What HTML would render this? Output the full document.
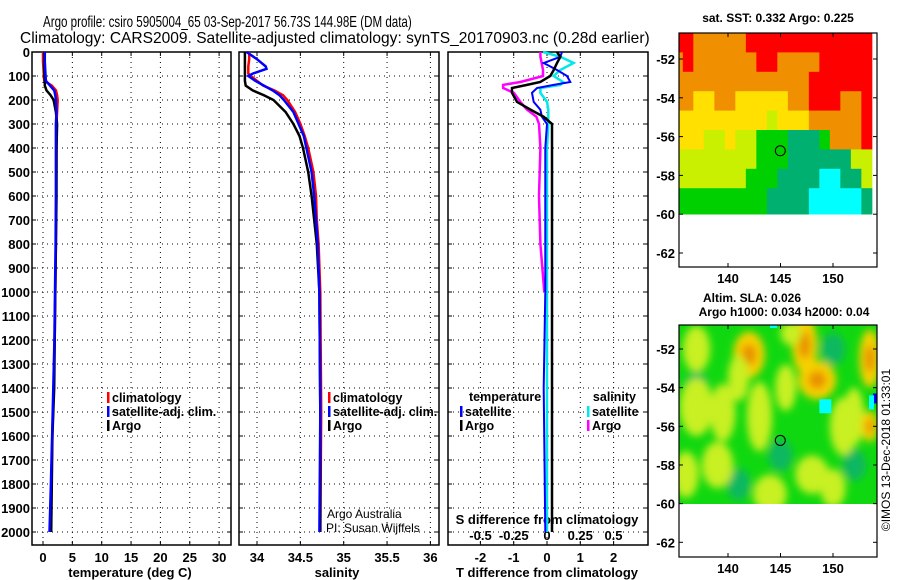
<!DOCTYPE html>
<html><head><meta charset="utf-8"><style>
body{margin:0;background:#fff}
svg{display:block;font-family:"Liberation Sans",sans-serif;font-weight:bold}
</style></head><body>
<svg id="c" width="900" height="580" viewBox="0 0 900 580">
<rect width="900" height="580" fill="#fff"/>
<text id="t1" x="0" y="0" font-size="15.5" font-weight="normal">Argo profile: csiro 5905004_65 03-Sep-2017 56.73S 144.98E (DM data)</text>
<text id="t2" x="0" y="0" font-size="15.5" font-weight="normal">Climatology: CARS2009. Satellite-adjusted climatology: synTS_20170903.nc (0.28d earlier)</text>
<g id="g"></g>
</svg>
<script>
// ---- data ----
const depthTicks=[0,100,200,300,400,500,600,700,800,900,1000,1100,1200,1300,1400,1500,1600,1700,1800,1900,2000];
const tempTicks=[0,5,10,15,20,25,30];
const salTicks=[34,34.5,35,35.5,36];
const tdiffTicks=[-2,-1,0,1,2];
const sdiffTicks=[-0.5,-0.25,0,0.25,0.5];
const tDepth=[0,40,80,120,140,160,180,200,250,300,400,600,800,1000,1200,1400,1600,1800,2000];
const tClim=[0,0,0.1,0.2,1.5,2.2,2.4,2.5,2.4,2.3,2.3,2.25,2.2,2.1,2.0,1.8,1.6,1.4,1.2];
const tSat=[0.3,0.3,0.4,0.5,1.2,1.9,2.1,2.2,2.3,2.2,2.2,2.2,2.15,2.05,1.95,1.75,1.55,1.35,1.1];
const tArgo=[0.2,0.2,0.2,0.3,0.3,0.6,1.3,1.8,2.2,2.4,2.3,2.3,2.2,2.1,2.0,1.9,1.6,1.5,1.4];
const sDepth=[0,30,60,70,90,100,120,140,160,180,200,250,300,350,400,500,600,700,800,1000,1500,2000];
const sClim=[33.91,33.91,33.9,33.9,33.9,33.93,34.0,34.07,34.2,34.3,34.35,34.44,34.5,34.55,34.59,34.65,34.68,34.69,34.71,34.73,34.74,34.73];
const sSat=[33.88,34.0,34.1,34.11,33.95,33.9,33.98,34.08,34.18,34.26,34.31,34.42,34.48,34.54,34.57,34.63,34.66,34.68,34.7,34.72,34.73,34.72];
const sArgo=[33.86,33.86,33.86,33.86,33.86,33.86,33.86,33.87,33.95,34.08,34.19,34.33,34.42,34.49,34.53,34.59,34.63,34.66,34.69,34.72,34.73,34.73];
const dDepth=[0,20,46,75,100,125,137,150,170,208,240,270,300,400,600,800,1000,1400,2000];
const dtSat=[0.45,0.4,-0.1,0.3,0.6,0.7,0.2,-0.3,-0.45,-0.4,-0.2,-0.15,0,-0.05,-0.05,-0.05,-0.05,-0.1,-0.05];
const dtArgo=[0.3,0.4,0.3,0.2,0.1,-0.2,-0.6,-1.05,-1.05,-0.9,-0.5,-0.1,0.15,0.15,0.15,0.15,0.15,0.15,0.15];
const dsSat=[-0.03,0.1,0.2,0.1,0.05,0.12,0.1,-0.05,-0.05,0.0,0.01,0.01,0.01,0.0,0.0,0.0,0.0,0.0,0.0];
const dsArgo=[-0.05,-0.05,-0.04,-0.03,-0.03,-0.2,-0.33,-0.33,-0.25,-0.2,-0.15,-0.08,-0.06,-0.05,-0.06,-0.05,-0.02,-0.02,-0.02];
const latTicks=[-52,-54,-56,-58,-60,-62];
const lonTicks=[140,145,150];
const argoLon=144.98, argoLat=-56.73;
const sstRows=[
"RROOOOORRRRRRRRRRRR",
"OROOOOOORROOOORRRRR",
"OOOOOOOOOOOOORRRRRR",
"OOYYOOYYYYYOORRROOR",
"YYYYYYYYYLYYYOOOOOR",
"YYYLLYLLGGGTTTGOOOR",
"LLLLLLLLGGGTTTTTTLL",
"LLLLLLLGGGTTTTCCTTL",
"GGGGGGGGGTTTTCCCCCT",
"GGGGGGGGGTTTTCCCCCT"];
const sstColors={R:"#ff0000",O:"#f09000",Y:"#ffe000",L:"#c8f000",G:"#00d000",T:"#00b070",C:"#00ffff"};
const slaLon=[142,147.3,148.5,153.5,137,143,151,139,148,152,137,144,150,141,146,153.5,136,139.5,145.5];
const slaLat=[-52.3,-51.8,-53.6,-52.5,-55,-55.5,-56,-58,-58.5,-55.5,-52,-59.5,-59.2,-53.5,-51.2,-56,-58.5,-55.3,-54];
const slaRx=[1.5,1.2,1.8,1.0,1.6,1.2,1.3,1.5,1.6,1.0,1.3,1.6,1.2,1,1,0.8,1.2,1.2,1.0];
const slaRy=[1.2,1.5,1.0,1.5,1.5,1.8,1.5,1.2,1.0,1.5,1.2,1.0,1.0,1.2,0.6,0.8,1.2,1.5,1.2];
const slaKind=["o","o","o","o","y","y","y","y","y","y","y","y","y","y","y","o","y","y","y"];
// ---- scales ----
const dep=d=>52+0.24*d;
const tx=v=>43+5.87*v;
const sx=v=>257+86.7*(v-34);
const dtx=v=>547+33.3*v;
const dsx=v=>547+133*v;
const mlon=v=>728+10.5*(v-140);
const m1lat=v=>59+19.4*(-52-v);
const m2lat=v=>349+19.33*(-52-v);
const NS="http://www.w3.org/2000/svg";
const G=document.getElementById('g');
function fitTitle(id,x,y,w){const t=document.getElementById(id);const L=t.getComputedTextLength();t.setAttribute('transform','translate('+x+','+y+') scale('+(w/L)+',1)');}
fitTitle('t1',43,27,369);
fitTitle('t2',20,43,630);
function el(tag,attrs,parent){const e=document.createElementNS(NS,tag);for(const k in attrs)e.setAttribute(k,attrs[k]);(parent||G).appendChild(e);return e;}
function txt(x,y,s,size,anchor,parent){const t=el('text',{x:x,y:y,'font-size':size,'text-anchor':anchor||'start'},parent);t.textContent=s;return t;}
function panel(name){
  const g=el('g',{});
  
  
  return g;
}
function grid(g,x0,x1,xs){
  depthTicks.forEach(d=>{const y=dep(d);
    const l=el('line',{x1:x0,x2:x1,y1:y,y2:y,stroke:'#000','stroke-dasharray':'1,4'},g);
    
    
    el('line',{x1:x0,x2:x0+4,y1:y,y2:y,stroke:'#000'},g);el('line',{x1:x1-4,x2:x1,y1:y,y2:y,stroke:'#000'},g);});
  xs.forEach(x=>{const l=el('line',{x1:x,x2:x,y1:52,y2:545,stroke:'#000','stroke-dasharray':'1,4'},g);
    
    
    el('line',{x1:x,x2:x,y1:545,y2:541,stroke:'#000'},g);el('line',{x1:x,x2:x,y1:52,y2:56,stroke:'#000'},g);});
  const r=el('rect',{x:x0,y:52,width:x1-x0,height:493,fill:'none',stroke:'#000','stroke-width':1.5},g);
  
  
}
function line(g,xs,ds,fx,color,name,w){
  const pts=xs.map((v,i)=>fx(v).toFixed(1)+','+dep(ds[i]).toFixed(1)).join(' ');
  const p=el('polyline',{points:pts,fill:'none',stroke:color,'stroke-width':w||2.5},g);
  
  
}
function legend(g,x,y,color,label,name){
  el('rect',{x:x,y:y-10,width:2.5,height:11,fill:color},g);
  const t=txt(x+5,y,label,12.5,'start',g);
  
  
}
// Panel 1
let g1=panel('temperature-panel');
grid(g1,32,231,tempTicks.map(tx));
depthTicks.forEach(d=>{const t=txt(30,dep(d)+5,String(d),13,'end',g1);
  
  });
tempTicks.forEach(v=>{const t=txt(tx(v),562,String(v),13,'middle',g1);
  
  });
let xt=txt(130,577,'temperature (deg C)',13,'middle',g1);


line(g1,tClim,tDepth,tx,'#ff0000','temp-climatology-line');
line(g1,tArgo,tDepth,tx,'#000','temp-argo-line');
line(g1,tSat,tDepth,tx,'#0000ff','temp-satellite-line');
legend(g1,107,402,'#ff0000','climatology','legend-climatology');
legend(g1,107,416,'#0000ff','satellite-adj. clim.','legend-satellite');
legend(g1,107,430,'#000','Argo','legend-argo');
// Panel 2
let g2=panel('salinity-panel');
grid(g2,239,439,salTicks.map(sx));
salTicks.forEach(v=>{const t=txt(sx(v),562,String(v),13,'middle',g2);
  
  });
let xs2=txt(337,577,'salinity',13,'middle',g2);


line(g2,sClim,sDepth,sx,'#ff0000','sal-climatology-line');
line(g2,sArgo,sDepth,sx,'#000','sal-argo-line');
line(g2,sSat,sDepth,sx,'#0000ff','sal-satellite-line');
legend(g2,328,402,'#ff0000','climatology','legend-climatology');
legend(g2,328,416,'#0000ff','satellite-adj. clim.','legend-satellite');
legend(g2,328,430,'#000','Argo','legend-argo');
let a1=el('text',{x:327,y:518,'font-size':12,'font-weight':'normal'},g2);a1.textContent='Argo Australia';


let a2=el('text',{x:326,y:532,'font-size':12,'font-weight':'normal'},g2);a2.textContent='PI: Susan Wijffels';


// Panel 3
let g3=panel('difference-panel');
grid(g3,448,648,tdiffTicks.map(dtx));
tdiffTicks.forEach(v=>{const t=txt(dtx(v),562,String(v),13,'middle',g3);
  
  });
sdiffTicks.forEach(v=>{const t=txt(dsx(v),540,String(v),13,'middle',g3);
  
  });
let x3=txt(547,577,'T difference from climatology',13,'middle',g3);


let x4=txt(547,524,'S difference from climatology',13,'middle',g3);


line(g3,dsArgo,dDepth.slice(0,17),dsx,'#ff00ff','sal-argo-diff-line',2.5);
line(g3,dsSat,dDepth,dsx,'#00e8e8','sal-satellite-diff-line',2.5);
line(g3,dtSat,dDepth,dtx,'#0000ff','temp-satellite-diff-line',2);
line(g3,dtArgo,dDepth,dtx,'#000','temp-argo-diff-line',2.5);
let lt=txt(469,401,'temperature',12.5,'start',g3);


legend(g3,460,416,'#0000ff','satellite','legend-temp-satellite');
legend(g3,460,430,'#000','Argo','legend-temp-argo');
let ls=txt(636,401,'salinity',12.5,'end',g3);


legend(g3,587,416,'#00e8e8','satellite','legend-sal-satellite');
legend(g3,587,430,'#ff00ff','Argo','legend-sal-argo');
// Map 1
let m1=panel('sst-map');
const mx0=679,mx1=877;
sstRows.forEach((row,ri)=>{
  [...row].forEach((c,ci)=>{
    const lonA=135+ci, latTop=-50.66-ri;
    const x0=Math.max(mx0,mlon(lonA-0.3)), x1=Math.min(mx1,mlon(lonA+0.7));
    const y0=Math.max(33,m1lat(latTop)), y1=Math.min(214,m1lat(latTop-1));
    if(y1>y0){const r=el('rect',{x:x0,y:y0,width:x1-x0+0.5,height:y1-y0+0.5,fill:sstColors[c]},m1);
      
      }
  });
});
function mapFrame(g,top,bot,latf,name){
  const r=el('rect',{x:679,y:top,width:198,height:bot-top,fill:'none',stroke:'#000','stroke-width':1.2},g);
  
  
  latTicks.forEach(v=>{const y=latf(v);
    el('line',{x1:873,x2:877,y1:y,y2:y,stroke:'#000'},g);el('line',{x1:679,x2:683,y1:y,y2:y,stroke:'#000'},g);
    const t=txt(675,y+5,String(v),13,'end',g);
    
    });
  lonTicks.forEach(v=>{const x=mlon(v);
    el('line',{x1:x,x2:x,y1:bot,y2:bot-4,stroke:'#000'},g);el('line',{x1:x,x2:x,y1:top,y2:top+4,stroke:'#000'},g);
    const t=txt(x,bot+16,String(v),13,'middle',g);
    
    });
}
mapFrame(m1,33,267,m1lat,'sst-map');
let c1=el('circle',{cx:mlon(argoLon),cy:m1lat(argoLat),r:5,fill:'none',stroke:'#000'},m1);


let st=txt(778,22,'sat. SST: 0.332 Argo: 0.225',12,'middle',m1);


// Map 2
let m2=panel('sla-map');
const defs=el('defs',{},m2);
const f=el('filter',{id:'bl',x:'-50%',y:'-50%',width:'200%',height:'200%'},defs);
el('feGaussianBlur',{stdDeviation:4},f);
const cp=el('clipPath',{id:'cp2'},defs);
el('rect',{x:679,y:325,width:198,height:179},cp);
const mg=el('g',{'clip-path':'url(#cp2)'},m2);
el('rect',{x:679,y:325,width:198,height:179,fill:'#10d810'},mg);
const bl=el('g',{filter:'url(#bl)'},mg);
[[137,-54,'#10b860'],[145,-57.5,'#10b860'],[150,-52,'#10b860'],[141,-59,'#10b860'],[152,-58,'#10b860']].forEach(a=>el('ellipse',{cx:mlon(a[0]),cy:m2lat(a[1]),rx:12,ry:16,fill:a[2]},bl));
slaLon.forEach((lo,i)=>{
  const k=slaKind[i];
  const e=el('ellipse',{cx:mlon(lo),cy:m2lat(slaLat[i]),rx:slaRx[i]*10.5,ry:slaRy[i]*19.3,fill:k==='o'?'#f8d000':'#c8f020'},bl);
  
  
  if(k==='o') el('ellipse',{cx:mlon(lo),cy:m2lat(slaLat[i]),rx:slaRx[i]*5,ry:slaRy[i]*9,fill:'#e89000'},bl);
});
el('rect',{x:mlon(148.7),y:m2lat(-54.6),width:12,height:14,fill:'#00ffff'},mg);
el('rect',{x:873,y:m2lat(-54.3),width:4,height:10,fill:'#0000ff'},mg);
el('rect',{x:869,y:m2lat(-54.4),width:5,height:14,fill:'#00ffff'},mg);
el('rect',{x:mlon(144),y:325,width:7,height:3,fill:'#00ffff'},mg);
mapFrame(m2,325,557,m2lat,'sla-map');
let c2=el('circle',{cx:mlon(argoLon),cy:m2lat(argoLat),r:5,fill:'none',stroke:'#000'},m2);


let s1=txt(752,302,'Altim. SLA: 0.026',12,'middle',m2);


let s2=txt(784,316,'Argo h1000: 0.034 h2000: 0.04',12,'middle',m2);


let cr=el('text',{x:0,y:0,'font-size':12,'font-weight':'normal','text-anchor':'middle',transform:'translate(890,450) rotate(-90)'});
cr.textContent='©IMOS 13-Dec-2018 01:33:01';


</script>
</body></html>
